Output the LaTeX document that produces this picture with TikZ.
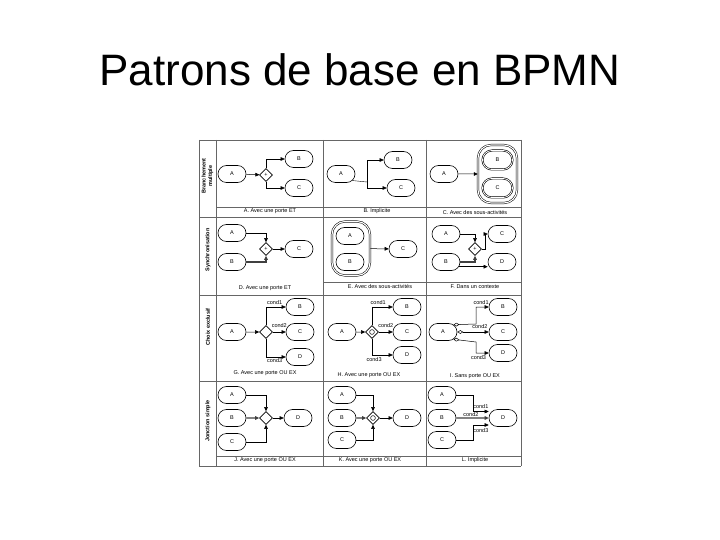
\documentclass[tikz,border=0pt]{standalone}
\usepackage{fontspec}
\setmainfont{Liberation Sans}
\usepackage{tikz}
\usetikzlibrary{positioning,shapes.geometric,shapes.misc,arrows.meta,calc}

\begin{document}
\begin{tikzpicture}[
    x=1pt, y=-1pt,
    every node/.style={inner sep=0pt, font=\fontsize{5.5}{6}\selectfont},
    act/.style={draw, rounded rectangle, minimum width=28pt, minimum height=17pt, line width=0.6pt, fill=white},
    sousproc/.style={draw, double, double distance=1.1pt, rounded corners=13pt, line width=0.5pt},
    gate/.style={draw, diamond, minimum size=13pt, line width=0.6pt, fill=white},
    gateou/.style={gate, path picture={\draw[line width=0.5pt] (path picture bounding box.center) circle (2.4pt);}},
    flow/.style={-{Triangle[length=4pt,width=3.6pt]}, line width=0.5pt},
    cflow/.style={{Diamond[open,length=6pt,width=3.6pt]}-{Triangle[length=4pt,width=3.6pt]}, line width=0.5pt},
    bold/.style={line width=1.3pt, draw=black!75},
    cond/.style={font=\fontsize{5.5}{6}\selectfont},
    legende/.style={font=\fontsize{5.5}{6}\selectfont},
    rowlab/.style={rotate=90, align=center, font=\fontsize{5.5}{6.5}\selectfont\bfseries},
    grille/.style={draw=black!60, line width=0.6pt}
]
\fill[white] (0,0) rectangle (720,540);
\useasboundingbox (0,0) rectangle (720,540);

% titre
\node[font=\fontsize{44}{48}\selectfont, anchor=base] (titre) at (360,86) {Patrons de base en BPMN};

% grille
\foreach \x in {199,216,323,426.5,521}
    \draw[grille] (\x,140) -- (\x,466);
\foreach \y in {140,217,295,381,466}
    \draw[grille] (199,\y) -- (521,\y);
\draw[grille] (216,207) -- (521,207);
\draw[grille] (323,282) -- (521,282);
\draw[grille] (216,456) -- (521,456);

% etiquettes des lignes
\node[rowlab] (r1) at (207.5,176) {Branchement\\multiple};
\node[rowlab] (r2) at (208,250) {Synchronisation};
\node[rowlab] (r3) at (208,327) {Choix exclusif};
\node[rowlab] (r4) at (208,421) {Jonction simple};

% A. porte ET
\node[act] (aA) at (232,174) {A};
\node[gate] (aG) at (266,175) {+};
\node[act] (aB) at (299,159) {B};
\node[act] (aC) at (299,188) {C};
\draw[flow] (aA) -- (aG);
\draw[flow] (aG.north) |- (aB.west);
\draw[flow] (aG.south) |- (aC.west);
\node[legende] (la) at (270,211.5) {A. Avec une porte ET};

% B. implicite
\node[act] (bA) at (341,174) {A};
\node[act] (bB) at (398,160) {B};
\node[act] (bC) at (401,188) {C};
\coordinate (bF) at (367,182);
\draw (bA.-30) -- (bF);
\draw[flow] (bF) |- (bB.west);
\draw[flow] (bF) |- (bC.west);
\node[legende] (lb) at (377,211.5) {B. Implicite};

% C. sous-activites
\node[act] (cA) at (444,174) {A};
\node[sousproc, minimum width=39pt, minimum height=58pt] (cS) at (497.5,174) {};
\node[act, minimum width=30pt, minimum height=19pt, double, double distance=0.8pt] (cB) at (497.5,160) {B};
\node[act, minimum width=30pt, minimum height=19pt, double, double distance=0.8pt] (cC) at (497.5,188) {C};
\draw[flow] (cA) -- (cS.west);
\node[legende] (lc) at (475,213) {C. Avec des sous-activités};

% D. porte ET
\node[act] (dA) at (232,233) {A};
\node[act] (dB) at (232,262) {B};
\node[gate] (dG) at (266,249) {+};
\node[act] (dC) at (299,249) {C};
\draw[flow] (dA.east) -| (dG.north);
\draw[flow, bold] (dB.east) -| (dG.south);
\draw[flow] (dG) -- (dC);
\node[legende] (ld) at (265,288) {D. Avec une porte ET};

% E. sous-activites
\node[sousproc, minimum width=38pt, minimum height=54pt] (eS) at (351,248.5) {};
\node[act] (eA) at (350,236) {A};
\node[act] (eB) at (350,262) {B};
\node[act] (eC) at (403,249) {C};
\draw[flow] (eS) -- (eC);
\node[legende] (le) at (380,286.5) {E. Avec des sous-activités};

% F. dans un contexte
\node[act] (fA) at (446,234) {A};
\node[act] (fB) at (446,262) {B};
\node[gate] (fG) at (475,249) {+};
\node[act] (fC) at (502,234) {C};
\node[act] (fD) at (502,262) {D};
\draw[flow] (fA.east) -| (fG.north);
\draw[flow, bold] (fB.east) -| (fG.south);
\draw[flow] (fG.east) -- ++(3,0) |- (fC.west);
\draw[flow] (fB.-20) -- (fD.west |- fB.-20);
\node[legende] (lf) at (475,287) {F. Dans un contexte};

% G. porte OU EX
\node[act] (gA) at (232,332) {A};
\node[gate] (gG) at (266,332) {};
\node[act] (gB) at (300,307) {B};
\node[act] (gC) at (300,332) {C};
\node[act] (gD) at (300,357) {D};
\draw[flow] (gA) -- (gG);
\draw[flow] (gG.north) |- node[cond, pos=0.72, above=2pt] {cond1} (gB.west);
\draw[flow] (gG) -- node[cond, above=4pt] {cond2} (gC);
\draw[flow] (gG.south) |- node[cond, pos=0.72, below=1pt] {cond3} (gD.west);
\node[legende] (lg) at (265,373.5) {G. Avec une porte OU EX};

% H. porte OU
\node[act] (hA) at (342,332) {A};
\node[gateou] (hG) at (372,332) {};
\node[act] (hB) at (407,307) {B};
\node[act] (hC) at (407,332) {C};
\node[act] (hD) at (407,355) {D};
\draw[flow] (hA) -- (hG);
\draw[flow] (hG.north) |- node[cond, pos=0.65, above=2pt] {cond1} (hB.west);
\draw[flow] (hG) -- node[cond, above=4pt] {cond2} (hC);
\draw[flow] (hG.south) |- node[cond, pos=0.55, below=2pt] {cond3} (hD.west);
\node[legende] (lh) at (369,375) {H. Avec une porte OU EX};

% I. sans porte
\node[act] (iA) at (443,332) {A};
\node[act] (iB) at (503,307) {B};
\node[act] (iC) at (503,332) {C};
\node[act] (iD) at (503,353) {D};
\coordinate (iK1) at (476,324);
\coordinate (iK3) at (476,342);
\draw[cflow] (iA.35) -- (iK1) |- node[cond, pos=0.7, above=2pt] {cond1} (iB.west);
\draw[cflow] (iA.east) -- node[cond, pos=0.72, above=3pt] {cond2} (iC.west);
\draw[cflow] (iA.-35) -- (iK3) |- node[cond, pos=0.6, below=2pt] {cond3} (iD.west);
\node[legende] (li) at (475,376) {I. Sans porte OU EX};

% J. porte OU EX
\node[act] (jA) at (232,395) {A};
\node[act] (jB) at (232,418) {B};
\node[act] (jC) at (232,442) {C};
\node[gate] (jG) at (266,418) {};
\node[act] (jD) at (298,418) {D};
\draw[flow] (jA.east) -| (jG.north);
\draw[flow, bold] (jB) -- (jG);
\draw[flow] (jC.east) -| (jG.south);
\draw[flow] (jG) -- (jD);
\node[legende] (lj) at (265,460.5) {J. Avec une porte OU EX};

% K. porte OU
\node[act] (kA) at (342,395) {A};
\node[act] (kB) at (342,418) {B};
\node[act] (kC) at (342,440) {C};
\node[gateou] (kG) at (373,418) {};
\node[act] (kD) at (407,418) {D};
\draw[flow] (kA.east) -| (kG.north);
\draw[flow, bold] (kB) -- (kG);
\draw[flow] (kC.east) -| (kG.south);
\draw[flow] (kG) -- (kD);
\node[legende] (lk) at (370,460.5) {K. Avec une porte OU EX};

% L. implicite
\node[act] (lA) at (442,395) {A};
\node[act] (lB) at (442,418) {B};
\node[act] (lC) at (442,440) {C};
\node[act] (lD) at (503,418) {D};
\coordinate (lK1) at (473,411.5);
\coordinate (lK3) at (473,425);
\draw[flow] (lA.east) -| (lK1) -- node[cond, above=3pt] {cond1} (lD.west |- lK1);
\draw[flow, bold] (lB) -- node[cond, above=1pt, pos=0.45] {cond2} (lD);
\draw[flow] (lC.east) -| (lK3) -- node[cond, below=3pt] {cond3} (lD.west |- lK3);
\node[legende] (ll) at (475,460.5) {L. Implicite};

\end{tikzpicture}
\end{document}
